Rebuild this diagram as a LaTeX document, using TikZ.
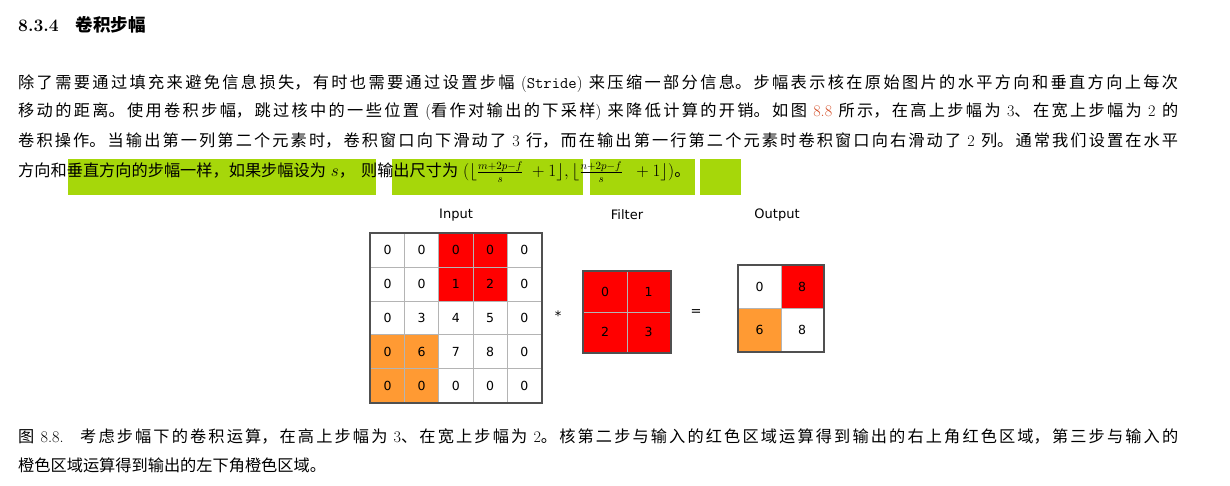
\documentclass[tikz,border=0pt]{standalone}
\usepackage{fontspec}
\newfontfamily\zh{Noto Sans CJK SC}
\newfontfamily\fig{DejaVu Sans}
\XeTeXlinebreaklocale "zh"
\XeTeXlinebreakskip=0pt plus 4pt
\definecolor{hl}{HTML}{A6D70A}
\definecolor{lnk}{HTML}{D4502A}
\definecolor{org}{HTML}{FF9A33}
\definecolor{grd}{HTML}{B4B4B4}
\definecolor{brd}{HTML}{505050}
\newcommand{\Z}[1]{{\zh #1}}
\newcommand{\EL}{\unskip\parfillskip=0pt\par}
\tikzset{
  line/.style={anchor=west,text width=1160pt,align=justify,inner sep=0pt,font=\fontsize{16.2}{18}\selectfont},
  cell/.style={draw=grd,line width=0.8pt,anchor=north west,inner sep=0pt,font=\fig\fontsize{12.5}{13}\selectfont},
  icell/.style={cell,minimum width=34.2pt,minimum height=33.8pt},
  fcell/.style={cell,minimum width=43.5pt,minimum height=40.5pt,fill=red},
  ocell/.style={cell,minimum width=42.5pt,minimum height=43pt},
  ttl/.style={font=\fig\fontsize{13}{14}\selectfont,inner sep=0pt}
}
\begin{document}
\begin{tikzpicture}[x=1pt,y=-1pt]
\useasboundingbox (0,0) rectangle (1230,485);
% heading
\node[anchor=west,inner sep=0pt,font=\bfseries\fontsize{17.5}{19}\selectfont] (h) at (18,25) {8.3.4\hspace{17pt}\Z{卷积步幅}};
% highlights
\fill[hl] (68,159) rectangle (376,195);
\fill[hl] (392,159) rectangle (583,195);
\fill[hl] (590,159) rectangle (695,195);
\fill[hl] (700,159) rectangle (741,195);
% paragraph
\node[line] (l1) at (18,84) {\Z{除了需要通过填充来避免信息损失，有时也需要通过设置步幅} (\texttt{Stride}) \Z{来压缩一部分信息。步幅表示核在原始图片的水平方向和垂直方向上每次}\EL};
\node[line] (l2) at (18,112) {\Z{移动的距离。使用卷积步幅，跳过核中的一些位置} (\Z{看作对输出的下采样}) \Z{来降低计算的开销。如图} \textcolor{lnk}{8.8} \Z{所示，在高上步幅为} 3\Z{、在宽上步幅为} 2 \Z{的}\EL};
\node[line] (l3) at (18,141) {\Z{卷积操作。当输出第一列第二个元素时，卷积窗口向下滑动了} 3 \Z{行，而在输出第一行第二个元素时卷积窗口向右滑动了} 2 \Z{列。通常我们设置在水平}\EL};
\node[anchor=west,inner sep=0pt,font=\fontsize{16.2}{18}\selectfont] (l4) at (18,172) {\Z{方向和垂直方向的步幅一样，如果步幅设为} $s$\Z{，}\hspace{6pt}\Z{则输出尺寸为} $(\lfloor{\textstyle\frac{m+2p-f}{s}}\;+1\rfloor,\lfloor{\textstyle\frac{n+2p-f}{s}}\;\;+1\rfloor)$\Z{。}};
% titles
\node[ttl] (ti) at (456,215) {Input};
\node[ttl] (tf) at (627,215) {Filter};
\node[ttl] (to) at (777,215) {Output};
% input grid
\foreach \r/\vals in {1/{0,0,0,0,0},2/{0,0,1,2,0},3/{0,3,4,5,0},4/{0,6,7,8,0},5/{0,0,0,0,0}}{
  \foreach \v [count=\c] in \vals {
    \pgfmathsetmacro{\fc}{(\r<3 && (\c==3 || \c==4)) ? 1 : ((\r>3 && \c<3) ? 2 : 0)}
    \ifcase\fc\relax \def\cl{white}\or\def\cl{red}\or\def\cl{org}\fi
    \node[icell,fill=\cl] (in\r\c) at ({370+(\c-1)*34.2},{233+(\r-1)*33.8}) {\v};
  }
}
\draw[brd,line width=2pt] (in11.north west) rectangle (in55.south east);
% filter
\node[fcell] (f11) at (583,271) {0};
\node[fcell] (f12) at (626.5,271) {1};
\node[fcell] (f21) at (583,311.5) {2};
\node[fcell] (f22) at (626.5,311.5) {3};
\draw[brd,line width=2pt] (f11.north west) rectangle (f22.south east);
% output
\node[ocell,fill=white] (o11) at (738,265) {0};
\node[ocell,fill=red] (o12) at (780.5,265) {8};
\node[ocell,fill=org] (o21) at (738,308) {6};
\node[ocell,fill=white] (o22) at (780.5,308) {8};
\draw[brd,line width=2pt] (o11.north west) rectangle (o22.south east);
% operators
\node[ttl] (star) at (558,316) {*};
\node[ttl] (eq) at (696,313) {=};
% caption
\node[line] (c1) at (18,436) {\Z{图} 8.8. \ \Z{考虑步幅下的卷积运算，在高上步幅为} 3\Z{、在宽上步幅为} 2\Z{。核第二步与输入的红色区域运算得到输出的右上角红色区域，第三步与输入的}\EL};
\node[anchor=west,inner sep=0pt,font=\fontsize{16.2}{18}\selectfont] (c2) at (18,465) {\Z{橙色区域运算得到输出的左下角橙色区域。}};
\end{tikzpicture}
\end{document}
